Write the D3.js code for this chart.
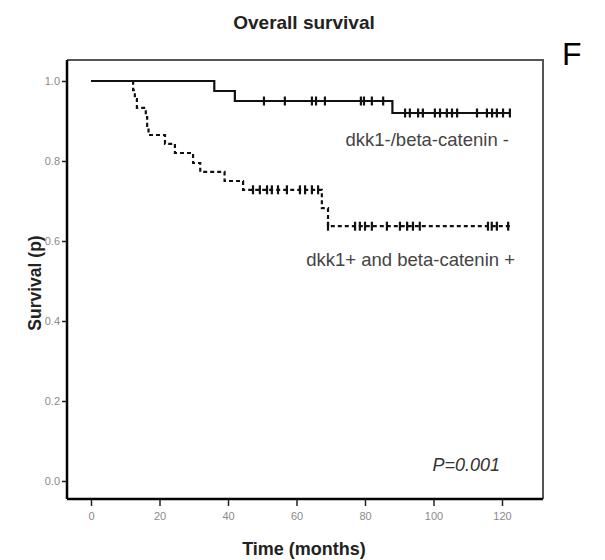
<!DOCTYPE html>
<html>
<head>
<meta charset="utf-8">
<script src="https://cdn.jsdelivr.net/npm/d3@7"></script>
<style>
  body { margin: 0; background: #fff; }
  svg { display: block; font-family: "Liberation Sans", Arial, sans-serif; }
</style>
</head>
<body>
<div id="chart"></div>
<script>
// Kaplan-Meier curves (time in months, survival proportion)
var negTimes = [0, 36, 42, 88, 122.5];
var negSurv = [1, 0.975, 0.95, 0.92, 0.92];
var negCensor = [50.5, 56.6, 64.5, 65.7, 68.3, 78.8, 79.7, 82, 85.3, 91.7, 93.1, 95.5, 96.9,
                 100.4, 101.9, 103.9, 105.4, 106.9, 112.7, 115.6, 117.1, 118.5, 120.3, 122.3];

var posTimes = [0, 12.3, 12.8, 13.4, 16, 16.4, 16.8, 21.6, 24.5, 29.8, 31.9, 39, 44.4, 67.4, 69.2, 122.3];
var posSurv = [1, 0.977, 0.955, 0.933, 0.91, 0.888, 0.865, 0.843, 0.82, 0.795, 0.773, 0.75, 0.728,
               0.682, 0.637, 0.637];
var posCensor = [47.3, 49.3, 51.4, 52.8, 54.6, 57.2, 61, 62.5, 64.5, 66.3, 69.2, 77.1, 78.5, 80, 82,
                 86.4, 90.2, 92.3, 94, 96, 115.9, 117, 118.5, 121.8];

var xTicks = [0, 20, 40, 60, 80, 100, 120];
var yTicks = [0, 0.2, 0.4, 0.6, 0.8, 1.0];

var width = 605, height = 560;
var box = {left: 67, top: 60, right: 543, bottom: 499};

var x = d3.scaleLinear().domain([0, 120]).range([91, 502]);
var y = d3.scaleLinear().domain([0, 1]).range([481, 81]);

var svg = d3.select("#chart").append("svg")
    .attr("width", width)
    .attr("height", height);

// frame: lighter top/right, heavy left/bottom
svg.append("path")
    .attr("d", "M" + box.left + "," + box.top + "H" + box.right + "V" + box.bottom)
    .attr("fill", "none")
    .attr("stroke", "#555")
    .attr("stroke-width", 2);

var xAxis = svg.append("g")
    .attr("transform", "translate(0," + box.bottom + ")")
    .call(d3.axisBottom(x).tickValues(xTicks).tickSize(7).tickPadding(6).tickFormat(d3.format("d")));
xAxis.select(".domain").attr("d", "M" + box.left + ",0H" + box.right).attr("stroke-width", 2.5);

var yAxis = svg.append("g")
    .attr("transform", "translate(" + box.left + ",0)")
    .call(d3.axisLeft(y).tickValues(yTicks).tickSize(5).tickPadding(2).tickFormat(d3.format(".1f")));
yAxis.select(".domain").attr("d", "M0," + box.top + "V" + box.bottom).attr("stroke-width", 2.5);

svg.selectAll(".tick line").attr("stroke", "#222").attr("stroke-width", 1.5);
svg.selectAll(".tick text").attr("fill", "#8a8a8a")
    .style("font-size", "11px").style("font-family", "Liberation Sans, Arial, sans-serif");

function stepValue(times, surv, t) {
  var i = d3.bisectRight(times, t) - 1;
  return surv[Math.max(0, i)];
}

function drawCurve(times, surv, censor, dash) {
  var pts = times.map(function(t, i) { return [t, surv[i]]; });
  var line = d3.line()
      .x(function(d) { return x(d[0]); })
      .y(function(d) { return y(d[1]); })
      .curve(d3.curveStepAfter);
  svg.append("path")
      .datum(pts)
      .attr("d", line)
      .attr("fill", "none")
      .attr("stroke", "#111")
      .attr("stroke-width", 2.2)
      .attr("stroke-dasharray", dash);

  // censor ticks
  svg.selectAll(null)
      .data(censor)
      .enter().append("line")
      .attr("x1", function(t) { return x(t); })
      .attr("x2", function(t) { return x(t); })
      .attr("y1", function(t) { return y(stepValue(times, surv, t)) - 4.5; })
      .attr("y2", function(t) { return y(stepValue(times, surv, t)) + 4.5; })
      .attr("stroke", "#111")
      .attr("stroke-width", 2.2);
}

drawCurve(negTimes, negSurv, negCensor, null);
drawCurve(posTimes, posSurv, posCensor, "4,3");

svg.append("text")
    .attr("x", 304).attr("y", 29)
    .attr("text-anchor", "middle")
    .attr("fill", "#222")
    .style("font-size", "19px").style("font-weight", "bold")
    .text("Overall survival");

svg.append("text")
    .attr("x", 562).attr("y", 65)
    .style("font-size", "32px")
    .text("F");

svg.append("text")
    .attr("x", 509).attr("y", 146)
    .attr("text-anchor", "end")
    .attr("fill", "#444")
    .style("font-size", "18.5px")
    .text("dkk1-/beta-catenin -");

svg.append("text")
    .attr("x", 515).attr("y", 266)
    .attr("text-anchor", "end")
    .attr("fill", "#444")
    .style("font-size", "18.5px")
    .text("dkk1+ and beta-catenin +");

svg.append("text")
    .attr("x", 500).attr("y", 471)
    .attr("text-anchor", "end")
    .attr("fill", "#333")
    .style("font-size", "18px").style("font-style", "italic")
    .text("P=0.001");

svg.append("text")
    .attr("x", 304).attr("y", 555)
    .attr("text-anchor", "middle")
    .attr("fill", "#222")
    .style("font-size", "18px").style("font-weight", "bold")
    .text("Time (months)");

svg.append("text")
    .attr("transform", "translate(41,283) rotate(-90)")
    .attr("text-anchor", "middle")
    .attr("fill", "#222")
    .style("font-size", "17.5px").style("font-weight", "bold")
    .text("Survival (p)");
</script>
</body>
</html>
